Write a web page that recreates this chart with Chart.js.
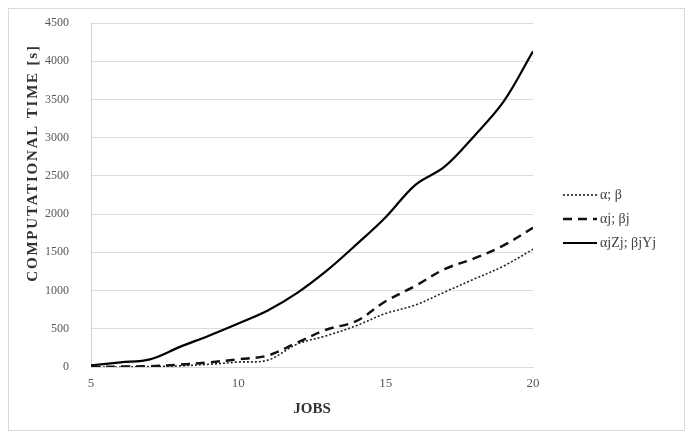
<!DOCTYPE html>
<html>
<head>
<meta charset="utf-8">
<script src="https://cdn.jsdelivr.net/npm/chart.js@4"></script>
<style>
    body { margin: 0; background: #fff; }
    #wrap { position: relative; width: 689px; height: 435px; }
    #frame { position: absolute; left: 8px; top: 8px; width: 675px; height: 421px; border: 1px solid #d9d9d9; }
    canvas { position: absolute; left: 0; top: 0; }
</style>
</head>
<body>
<div id="wrap">
    <div id="frame"></div>
    <canvas id="timeChart" width="689" height="435"></canvas>
</div>
<script>
// jobs on the x axis
const jobs = [5, 6, 7, 8, 9, 10, 11, 12, 13, 14, 15, 16, 17, 18, 19, 20];
// computational time [s] per model
const timeAB = [0, 0, 5, 15, 35, 65, 90, 300, 410, 540, 700, 810, 980, 1150, 1320, 1540];
const timeAjBj = [0, 5, 10, 30, 60, 100, 150, 320, 490, 600, 860, 1060, 1280, 1420, 1590, 1820];
const timeAjZjBjYj = [20, 60, 100, 260, 410, 570, 740, 970, 1260, 1600, 1960, 2380, 2620, 3020, 3470, 4130];
const seriesLabels = ["α; β", "αj; βj", "αjZj; βjYj"];
const yTitle = "COMPUTATIONAL TIME [s]";
const xTitle = "JOBS";

const toPoints = (vals) => vals.map((v, i) => ({ x: jobs[i], y: v }));

// legend + rotated y title drawn by hand so they sit where the original has them
const sideText = {
    id: "sideText",
    afterDraw(chart) {
        const ctx = chart.ctx;
        ctx.save();
        ctx.translate(33, 163);
        ctx.rotate(-Math.PI / 2);
        ctx.font = "bold 15px 'Liberation Serif'";
        ctx.letterSpacing = "1.8px";
        ctx.fillStyle = "#333";
        ctx.textAlign = "center";
        ctx.textBaseline = "middle";
        ctx.fillText(yTitle, 0, 0);
        ctx.restore();

        ctx.save();
        ctx.font = "14px 'Liberation Serif'";
        ctx.textBaseline = "middle";
        chart.data.datasets.forEach((ds, i) => {
            const y = 195 + i * 24;
            ctx.strokeStyle = ds.borderColor;
            ctx.lineWidth = ds.borderWidth;
            ctx.setLineDash(ds.borderDash || []);
            ctx.beginPath();
            ctx.moveTo(563, y);
            ctx.lineTo(597, y);
            ctx.stroke();
            ctx.fillStyle = "#404040";
            ctx.fillText(ds.label, 600, y);
        });
        ctx.restore();
    }
};

new Chart(document.getElementById("timeChart"), {
    type: "line",
    data: {
        datasets: [
            {
                label: seriesLabels[0],
                data: toPoints(timeAB),
                borderColor: "#222",
                borderWidth: 1.6,
                borderDash: [2, 2],
            },
            {
                label: seriesLabels[1],
                data: toPoints(timeAjBj),
                borderColor: "#111",
                borderWidth: 2.5,
                borderDash: [9, 6],
            },
            {
                label: seriesLabels[2],
                data: toPoints(timeAjZjBjYj),
                borderColor: "#000",
                borderWidth: 2.2,
            },
        ],
    },
    options: {
        responsive: false,
        animation: false,
        layout: { padding: { left: 40, right: 156, top: 23, bottom: 17 } },
        elements: {
            point: { radius: 0 },
            line: { tension: 0.35, fill: false },
        },
        plugins: {
            legend: { display: false },
            tooltip: { enabled: false },
        },
        scales: {
            x: {
                type: "linear",
                min: 5,
                max: 20,
                ticks: {
                    stepSize: 5,
                    padding: 10,
                    color: "#595959",
                    font: { family: "'Liberation Serif'", size: 13, lineHeight: 1 },
                },
                grid: { display: false, drawTicks: false },
                border: { display: true, color: "#d9d9d9" },
                title: {
                    display: true,
                    text: xTitle,
                    color: "#333",
                    font: { family: "'Liberation Serif'", size: 15, weight: "bold" },
                    padding: { top: 0, bottom: 0 },
                },
            },
            y: {
                min: 0,
                max: 4500,
                ticks: {
                    stepSize: 500,
                    padding: 5,
                    color: "#595959",
                    font: { family: "'Liberation Serif'", size: 12 },
                    callback: (v) => String(v),
                },
                // invisible tick marks keep the wide gap between labels and axis
                grid: { color: "#dcdcdc", drawTicks: true, tickLength: 17, tickColor: "rgba(0,0,0,0)" },
                border: { display: true, color: "#d0d0d0" },
            },
        },
    },
    plugins: [sideText],
});
</script>
</body>
</html>
